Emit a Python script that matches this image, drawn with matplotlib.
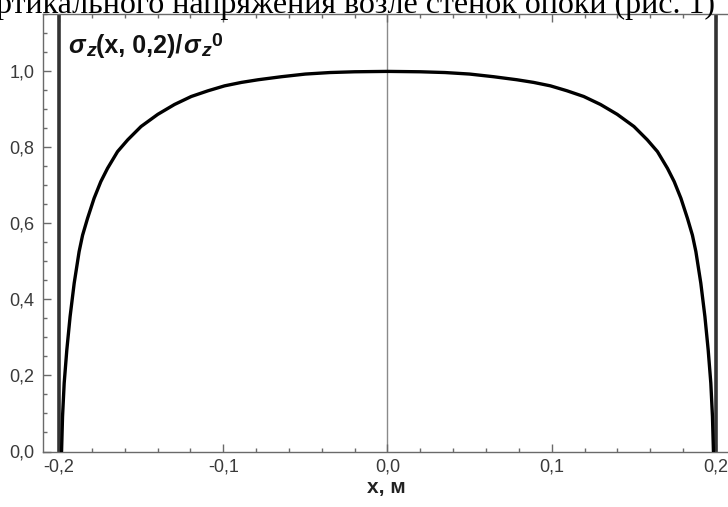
import matplotlib
matplotlib.use("Agg")
import matplotlib.pyplot as plt
from matplotlib.ticker import FixedLocator, FixedFormatter, MultipleLocator

# ---- data ----
x_left = [-0.1985, -0.1979, -0.1969, -0.1953, -0.1933, -0.1908, -0.1878, -0.1857,
          -0.1827, -0.1787, -0.1746, -0.1705, -0.1644, -0.1582, -0.1501, -0.1399,
          -0.1297, -0.1195, -0.1093, -0.0992, -0.0890, -0.0788, -0.0646, -0.0500,
          -0.0350, -0.0200, 0.0]
y_left = [0.0, 0.092, 0.180, 0.267, 0.355, 0.443, 0.526, 0.569,
          0.613, 0.666, 0.710, 0.745, 0.789, 0.820, 0.855, 0.887,
          0.913, 0.934, 0.949, 0.962, 0.971, 0.978, 0.986, 0.993,
          0.997, 0.999, 1.0]
x_right = [0.0200, 0.0350, 0.0500, 0.0646, 0.0788, 0.0890, 0.0992, 0.1093,
           0.1195, 0.1297, 0.1399, 0.1501, 0.1582, 0.1644, 0.1705, 0.1746,
           0.1787, 0.1827, 0.1857, 0.1878, 0.1908, 0.1933, 0.1953, 0.1969,
           0.1979, 0.1985]
y_right = [0.999, 0.997, 0.993, 0.986, 0.978, 0.971, 0.962, 0.949,
           0.934, 0.913, 0.887, 0.855, 0.820, 0.789, 0.745, 0.710,
           0.666, 0.613, 0.569, 0.526, 0.443, 0.355, 0.267, 0.180,
           0.092, 0.0]
x_vals = x_left + x_right
y_vals = y_left + y_right
wall_x = [-0.2, 0.2]

x_ticks = [-0.2, -0.1, 0.0, 0.1, 0.2]
x_ticklabels = ["-0,2", "-0,1", "0,0", "0,1", "0,2"]
y_ticks = [0.0, 0.2, 0.4, 0.6, 0.8, 1.0]
y_ticklabels = ["0,0", "0,2", "0,4", "0,6", "0,8", "1,0"]

title_text = "ртикального напряжения возле стенок опоки (рис. 1)"
xlabel_text = "x, м"
# label pieces: (text, size, style, baseline shift in px)
label_pieces = [("σ", 18, "italic", 0), ("z", 14, "italic", -3),
                ("(x, 0,2)/", 18, "normal", 0), ("σ", 18, "italic", 0),
                ("z", 14, "italic", -3), ("0", 14, "normal", 7)]

W, H = 728, 507
fig = plt.figure(figsize=(W / 100, H / 100), dpi=100)
ax = fig.add_axes([43 / W, (H - 451.5) / H, 689 / W, 437.5 / H])
ax.set_xlim(-0.2098, 0.2098)
ax.set_ylim(0, 1.151)

spine_c = "#6a6a6a"
for s in ax.spines.values():
    s.set_color(spine_c)
    s.set_linewidth(1.0)

ax.axvline(0.0, color="#8a8a8a", lw=1.0, zorder=1)
for wx in wall_x:
    ax.axvline(wx, color="#333333", lw=2.6, zorder=2)
ax.plot(x_vals, y_vals, color="black", lw=2.4, zorder=3,
        solid_joinstyle="round", solid_capstyle="round")

ax.xaxis.set_major_locator(FixedLocator(x_ticks))
ax.xaxis.set_major_formatter(FixedFormatter(x_ticklabels))
ax.xaxis.set_minor_locator(MultipleLocator(0.02))
ax.yaxis.set_major_locator(FixedLocator(y_ticks))
ax.yaxis.set_major_formatter(FixedFormatter(y_ticklabels))
ax.yaxis.set_minor_locator(MultipleLocator(0.05))

ax.tick_params(which="both", direction="in", top=True, right=False,
               color=spine_c, width=1.0)
ax.tick_params(which="major", length=5.5)
ax.tick_params(which="minor", length=3.0)
ax.tick_params(axis="x", which="major", pad=5, labelsize=13, labelcolor="#3a3a3a")
ax.tick_params(axis="y", which="major", pad=6, labelsize=13, labelcolor="#3a3a3a")
for lab in ax.get_xticklabels() + ax.get_yticklabels():
    lab.set_fontfamily("Liberation Sans")

# inline y label built from pieces (Mathematica-style large sub/superscripts)
renderer = fig.canvas.get_renderer()
cur_x = 68.0
base_y = H - 53.0
for txt, size, style, dy in label_pieces:
    t = fig.text(cur_x / W, (base_y + dy) / H, txt, fontsize=size,
                 fontweight="bold", fontstyle=style, family="Liberation Sans",
                 color="#111111", ha="left", va="baseline")
    bb = t.get_window_extent(renderer)
    cur_x = bb.x1 + (1.5 if txt == "σ" else 0.5)

fig.text(386 / W, 1 - 487 / H, xlabel_text, fontsize=15, fontweight="bold",
         family="Liberation Sans", color="#222222", ha="center", va="center")

fig.text(715 / W, 1 - 13 / H, title_text, fontsize=23,
         family="Liberation Serif", color="black", ha="right", va="baseline")

fig.savefig("out.png", dpi=100, facecolor="white")
